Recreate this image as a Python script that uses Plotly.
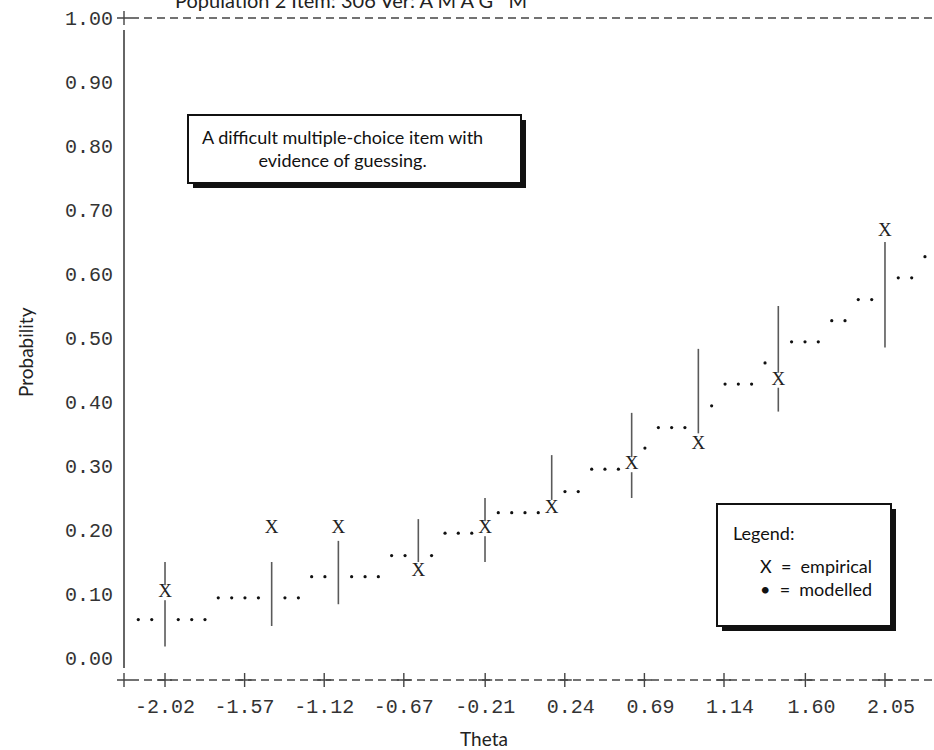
import plotly.graph_objects as go

# ---------------- data ----------------
x_tickvals = [-2.02, -1.57, -1.12, -0.67, -0.21, 0.24, 0.69, 1.14, 1.60, 2.05]
x_ticktext = ["-2.02", "-1.57", "-1.12", "-0.67", "-0.21",
              "\u00a00.24", "\u00a00.69", "\u00a01.14", "\u00a01.60", "\u00a02.05"]
y_tickvals = [0.0, 0.1, 0.2, 0.3, 0.4, 0.5, 0.6, 0.7, 0.8, 0.9, 1.0]
y_ticktext = ["0.00", "0.10", "0.20", "0.30", "0.40", "0.50",
              "0.60", "0.70", "0.80", "0.90", "1.00"]

# empirical points (X) and their vertical bars
emp_theta = [-2.020, -1.417, -1.040, -0.588, -0.211, 0.166, 0.618, 0.995, 1.447, 2.050]
emp_prob = [0.102, 0.202, 0.202, 0.135, 0.202, 0.234, 0.302, 0.334, 0.434, 0.667]
bar_lo = [0.018, 0.050, 0.084, 0.150, 0.150, 0.247, 0.250, 0.351, 0.385, 0.485]
bar_hi = [0.150, 0.150, 0.183, 0.217, 0.250, 0.317, 0.383, 0.483, 0.550, 0.650]

# modelled curve (dots)
mod_theta = [-2.171, -2.095, -1.945, -1.869, -1.794, -1.719, -1.643, -1.568, -1.492,
             -1.342, -1.266, -1.191, -1.116, -0.965, -0.889, -0.814, -0.739, -0.663,
             -0.513, -0.437, -0.362, -0.286, -0.136, -0.060, 0.015, 0.090, 0.241,
             0.316, 0.392, 0.467, 0.543, 0.693, 0.769, 0.844, 0.919, 1.070, 1.146,
             1.221, 1.296, 1.372, 1.522, 1.598, 1.673, 1.749, 1.824, 1.899, 1.975,
             2.125, 2.201, 2.276]
mod_prob = [0.060, 0.060, 0.060, 0.060, 0.060, 0.094, 0.094, 0.094, 0.094,
            0.094, 0.094, 0.127, 0.127, 0.127, 0.127, 0.127, 0.160, 0.160,
            0.160, 0.195, 0.195, 0.195, 0.227, 0.227, 0.227, 0.227, 0.260,
            0.260, 0.295, 0.295, 0.295, 0.328, 0.360, 0.360, 0.360, 0.394, 0.428,
            0.428, 0.428, 0.461, 0.494, 0.494, 0.494, 0.527, 0.527, 0.560, 0.560,
            0.594, 0.594, 0.627]

title_text = "Population 2 Item: 306 Ver: A M A G   M"
note_text = "A difficult multiple-choice item with<br>evidence of guessing."
legend_head = "Legend:"
legend_body = "X  =  empirical<br>\u2022  =  modelled"

# ---------------- layout helpers ----------------
W, H = 934, 750
L, R, T, B = 124, 0, 10, 70
X_RANGE = [-2.2518, 2.3271]
Y_RANGE = [-0.0344, 1.0125]


def pxx(p):
    return (p - L) / (W - L - R)


def pxy(p):
    return (H - B - p) / (H - T - B)


MONO = "Liberation Mono, DejaVu Sans Mono, monospace"
SANS = "Lato, Noto Sans, sans-serif"
GREY = "#444444"

fig = go.Figure()

# vertical bars
bx, by = [], []
for t, lo, hi in zip(emp_theta, bar_lo, bar_hi):
    bx += [t, t, None]
    by += [lo, hi, None]
fig.add_trace(go.Scatter(x=bx, y=by, mode="lines",
                         line=dict(color="#5a5a5a", width=1.6),
                         hoverinfo="skip", showlegend=False))

# modelled dots
fig.add_trace(go.Scatter(x=mod_theta, y=mod_prob, mode="markers",
                         marker=dict(symbol="circle", size=3.2, color="#111111"),
                         showlegend=False, cliponaxis=False))

# white backing under X's (bar gap)
fig.add_trace(go.Scatter(x=emp_theta, y=emp_prob, mode="markers",
                         marker=dict(symbol="square", size=15, color="white"),
                         hoverinfo="skip", showlegend=False))

# empirical X's
fig.add_trace(go.Scatter(x=emp_theta, y=emp_prob, mode="text", text=["X"] * len(emp_theta),
                         textposition="middle center",
                         textfont=dict(family="Liberation Serif, serif", size=19, color="#222222"),
                         showlegend=False))

# plus signs on the bottom axis, at the tick values and at the corner
plus_x = [X_RANGE[0]] + x_tickvals
fig.add_trace(go.Scatter(x=plus_x, y=[Y_RANGE[0]] * len(plus_x), mode="markers",
                         marker=dict(symbol="cross-thin", size=10,
                                     line=dict(color=GREY, width=1.4)),
                         cliponaxis=False, hoverinfo="skip", showlegend=False))
# plus sign at 1.00
fig.add_trace(go.Scatter(x=[X_RANGE[0]], y=[1.0], mode="markers",
                         marker=dict(symbol="cross-thin", size=10,
                                     line=dict(color=GREY, width=1.4)),
                         cliponaxis=False, hoverinfo="skip", showlegend=False))

shapes = []
# y axis vertical line
shapes.append(dict(type="line", xref="paper", yref="paper",
                   x0=0, x1=0, y0=pxy(668), y1=pxy(30),
                   line=dict(color="#666666", width=2)))
# top dashed line
shapes.append(dict(type="line", xref="paper", yref="y",
                   x0=pxx(131), x1=1, y0=1.0, y1=1.0,
                   line=dict(color=GREY, width=1.3, dash="8px,5px")))
# bottom dashed axis
shapes.append(dict(type="line", xref="paper", yref="paper",
                   x0=pxx(131), x1=1, y0=0, y1=0,
                   line=dict(color=GREY, width=1.3, dash="8px,5px")))


def box(x0, y0, x1, y1):
    # shadow
    shapes.append(dict(type="rect", xref="paper", yref="paper",
                       x0=pxx(x0 + 5), x1=pxx(x1 + 5), y0=pxy(y1 + 5), y1=pxy(y0 + 5),
                       fillcolor="#111111", line=dict(width=0), layer="above"))
    shapes.append(dict(type="rect", xref="paper", yref="paper",
                       x0=pxx(x0), x1=pxx(x1), y0=pxy(y1), y1=pxy(y0),
                       fillcolor="white", line=dict(color="#111111", width=2), layer="above"))


box(188, 115, 521, 183)
box(717, 504, 891, 626)

annotations = []
# title (clipped at top, as in the reference)
annotations.append(dict(x=pxx(173), y=pxy(14), xref="paper", yref="paper", text=title_text,
                        showarrow=False, xanchor="left", yanchor="bottom",
                        font=dict(family=SANS, size=20, color="#222222")))
# note box text
annotations.append(dict(x=pxx(342), y=pxy(149), xref="paper", yref="paper", text=note_text,
                        showarrow=False, xanchor="center", yanchor="middle", align="center",
                        font=dict(family=SANS, size=18, color="#111111")))
# legend box text
annotations.append(dict(x=pxx(731), y=pxy(533), xref="paper", yref="paper", text=legend_head,
                        showarrow=False, xanchor="left", yanchor="middle",
                        font=dict(family=SANS, size=18, color="#111111")))
annotations.append(dict(x=pxx(874), y=pxy(577), xref="paper", yref="paper", text=legend_body,
                        showarrow=False, xanchor="right", yanchor="middle", align="right",
                        font=dict(family=SANS, size=18, color="#111111")))
# axis titles
annotations.append(dict(x=pxx(484), y=pxy(738), xref="paper", yref="paper", text="Theta",
                        showarrow=False, xanchor="center", yanchor="middle",
                        font=dict(family=SANS, size=19, color="#222222")))
annotations.append(dict(x=pxx(25), y=pxy(352), xref="paper", yref="paper", text="Probability",
                        showarrow=False, xanchor="center", yanchor="middle", textangle=-90,
                        font=dict(family=SANS, size=19, color="#222222")))

fig.update_layout(
    width=W, height=H,
    margin=dict(l=L, r=R, t=T, b=B, pad=0),
    paper_bgcolor="white", plot_bgcolor="white",
    showlegend=False,
    shapes=shapes, annotations=annotations,
    xaxis=dict(range=X_RANGE, tickvals=x_tickvals, ticktext=x_ticktext,
               showgrid=False, zeroline=False, showline=False,
               ticks="outside", ticklen=8, tickcolor="rgba(0,0,0,0)",
               tickfont=dict(family=MONO, size=20, color="#333333")),
    yaxis=dict(range=Y_RANGE, tickvals=y_tickvals, ticktext=y_ticktext,
               showgrid=False, zeroline=False, showline=False,
               ticks="outside", ticklen=6, tickcolor="rgba(0,0,0,0)",
               tickfont=dict(family=MONO, size=20, color="#333333")),
)

fig.write_html("out.html")
